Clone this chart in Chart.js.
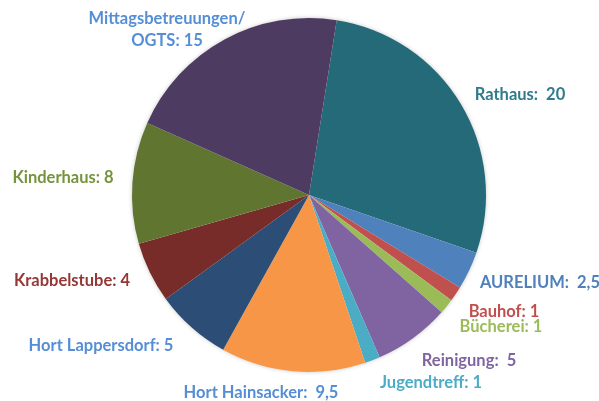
<!DOCTYPE html>
<html>
<head>
<meta charset="utf-8">
<script src="https://cdn.jsdelivr.net/npm/chart.js@4"></script>
<style>
  html, body { margin: 0; padding: 0; background: #fff; }
  #wrap { width: 599px; height: 401px; }
</style>
</head>
<body>
<div id="wrap"><canvas id="pieChart"></canvas></div>
<script>
// data, clockwise from the top
const categories = ["Rathaus", "AURELIUM", "Bauhof", "Bücherei", "Reinigung", "Jugendtreff",
    "Hort Hainsacker", "Hort Lappersdorf", "Krabbelstube", "Kinderhaus", "Mittagsbetreuungen/ OGTS"];
const values = [20, 2.5, 1, 1, 5, 1, 9.5, 5, 4, 8, 15];
const valueLabels = ["20", "2,5", "1", "1", "5", "1", "9,5", "5", "4", "8", "15"];

const sliceColors = ["#256a78", "#4f81bd", "#c0504d", "#9bbb59", "#8064a2", "#4bacc6",
    "#f79646", "#2c4d75", "#772c2a", "#5f7530", "#4d3b62"];
const labelColors = ["#2f7a8c", "#4f81bd", "#c0504d", "#9bbb59", "#8064a2", "#4bacc6",
    "#558ed5", "#558ed5", "#953735", "#77933c", "#558ed5"];

// label text lines + centre of the label box
const labelText = [
    ["Rathaus:  " + valueLabels[0]],
    ["AURELIUM:  " + valueLabels[1]],
    ["Bauhof: " + valueLabels[2]],
    ["Bücherei: " + valueLabels[3]],
    ["Reinigung:  " + valueLabels[4]],
    ["Jugendtreff: " + valueLabels[5]],
    ["Hort Hainsacker:  " + valueLabels[6]],
    ["Hort Lappersdorf: " + valueLabels[7]],
    ["Krabbelstube: " + valueLabels[8]],
    ["Kinderhaus: " + valueLabels[9]],
    ["Mittagsbetreuungen/", "OGTS: " + valueLabels[10]],
];
const labelPos = [
    [520, 95], [540, 283], [504, 312], [501, 327], [469, 361], [431, 383],
    [261, 393], [101, 346], [72, 281], [63, 178], [167, 30],
];

const pieShadow = {
    id: "pieShadow",
    beforeDatasetsDraw(chart) {
        const arc = chart.getDatasetMeta(0).data[0];
        if (!arc) return;
        const ctx = chart.ctx;
        ctx.save();
        ctx.shadowColor = "rgba(0,0,0,0.35)";
        ctx.shadowBlur = 5;
        ctx.fillStyle = "#fff";
        ctx.beginPath();
        ctx.arc(arc.x, arc.y, arc.outerRadius - 1, 0, Math.PI * 2);
        ctx.fill();
        ctx.restore();
    }
};

const sliceLabels = {
    id: "sliceLabels",
    afterDatasetsDraw(chart) {
        const ctx = chart.ctx;
        ctx.save();
        ctx.font = "bold 16.5px Lato, 'Open Sans', sans-serif";
        ctx.textAlign = "center";
        ctx.textBaseline = "middle";
        labelText.forEach((lines, i) => {
            ctx.fillStyle = labelColors[i];
            const [x, y] = labelPos[i];
            const lh = 22;
            const y0 = y - (lines.length - 1) * lh / 2;
            lines.forEach((t, k) => ctx.fillText(t, x, y0 + k * lh));
        });
        ctx.restore();
    }
};

new Chart(document.getElementById("pieChart"), {
    type: "pie",
    data: {
        labels: categories,
        datasets: [{
            data: values,
            backgroundColor: sliceColors,
            borderWidth: 0,
        }],
    },
    options: {
        responsive: true,
        maintainAspectRatio: false,
        animation: false,
        rotation: 9,
        layout: { padding: { top: 18, bottom: 29, left: 132, right: 113 } },
        plugins: {
            legend: { display: false },
            tooltip: { enabled: false },
        },
    },
    plugins: [pieShadow, sliceLabels],
});
</script>
</body>
</html>
